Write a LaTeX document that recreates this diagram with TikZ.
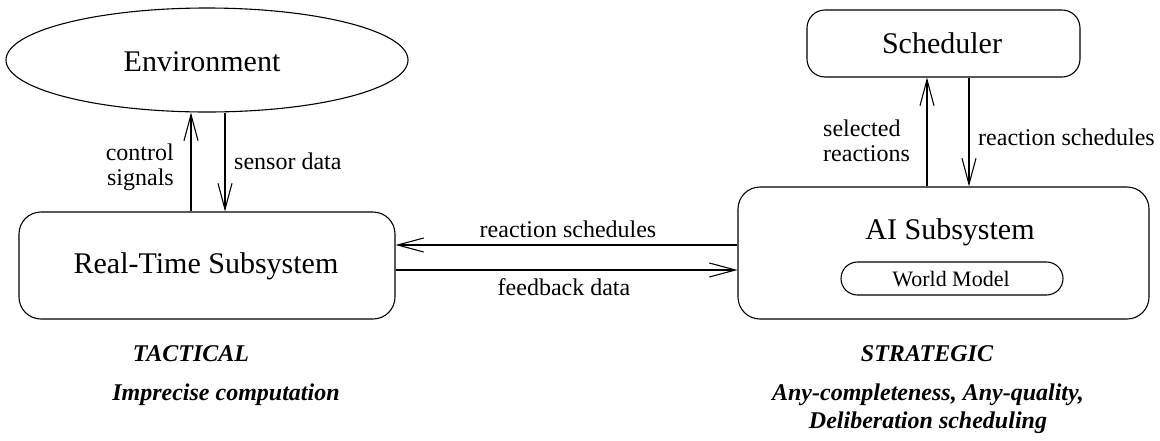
\documentclass[tikz,border=0pt]{standalone}
\usepackage{fontspec}
\setmainfont{Liberation Serif}
\newfontfamily\tms{Liberation Serif}
\usetikzlibrary{arrows.meta,shapes.geometric}
\tikzset{
  big/.style={font=\tms\fontsize{30}{34}\selectfont, inner sep=0pt},
  lbl/.style={font=\tms\fontsize{24}{25}\selectfont, inner sep=0pt},
  bi/.style={font=\tms\fontsize{24}{28}\selectfont\bfseries\itshape, inner sep=0pt},
  box/.style={draw, line width=1.1pt, inner sep=0pt},
  arr/.style={line width=1.1pt, -{Straight Barb[length=26pt,width=14pt,line width=1.1pt]}},
}
\begin{document}
\begin{tikzpicture}[x=1pt,y=-1pt]
\useasboundingbox (0,0) rectangle (1160,440);
% boxes
\node[box, ellipse, minimum width=402pt, minimum height=104pt] (env) at (207,60) {};
\node[big] (envt) at (202,62) {Environment};
\node[box, rounded corners=22pt, minimum width=376pt, minimum height=107pt] (rt) at (207,265.5) {};
\node[big] (rtt) at (206,266) {Real-Time Subsystem};
\node[box, rounded corners=22pt, minimum width=411pt, minimum height=132pt] (ai) at (943.5,253) {};
\node[big] (ait) at (950,232) {AI Subsystem};
\node[box, rounded corners=16.5pt, minimum width=222pt, minimum height=33pt] (wm) at (952,278.5) {};
\node[font=\tms\fontsize{22}{24}\selectfont, inner sep=0pt] (wmt) at (951,279) {World Model};
\node[box, rounded corners=18pt, minimum width=273pt, minimum height=67pt] (sch) at (943.5,43.5) {};
\node[big] (scht) at (942,43) {Scheduler};
% coordinates for arrow columns/rows
\coordinate (xcs) at (191,0);
\coordinate (xsd) at (225,0);
\coordinate (xsr) at (927,0);
\coordinate (xrs) at (969,0);
\coordinate (yrs) at (0,245);
\coordinate (yfb) at (0,270);
% arrows
\draw[arr] (rt.north -| xcs) -- (env.south -| xcs);
\draw[arr] (env.south -| xsd) -- (rt.north -| xsd);
\draw[arr] (ai.north -| xsr) -- (sch.south -| xsr);
\draw[arr] (sch.south -| xrs) -- (ai.north -| xrs);
\draw[arr] (ai.west |- yrs) -- (rt.east |- yrs);
\draw[arr] (rt.east |- yfb) -- (ai.west |- yfb);
% labels
\node[lbl, anchor=east, align=right] (lcs) at (174,167) {control\\signals};
\node[lbl, anchor=west] (lsd) at (234,161) {sensor data};
\node[lbl, anchor=west, align=left] (lsr) at (823,141) {selected\\reactions};
\node[lbl, anchor=west] (lrs) at (978,137) {reaction schedules};
\node[lbl] (lrs2) at (568,229) {reaction schedules};
\node[lbl] (lfb) at (564,287) {feedback data};
% bottom texts
\node[bi] (tac) at (191,354) {TACTICAL};
\node[bi] (imp) at (226,395) {Imprecise computation};
\node[bi] (str) at (927,354) {STRATEGIC};
\node[bi, align=center] (any) at (928,409) {Any-completeness, Any-quality,\\Deliberation scheduling};
\end{tikzpicture}
\end{document}
